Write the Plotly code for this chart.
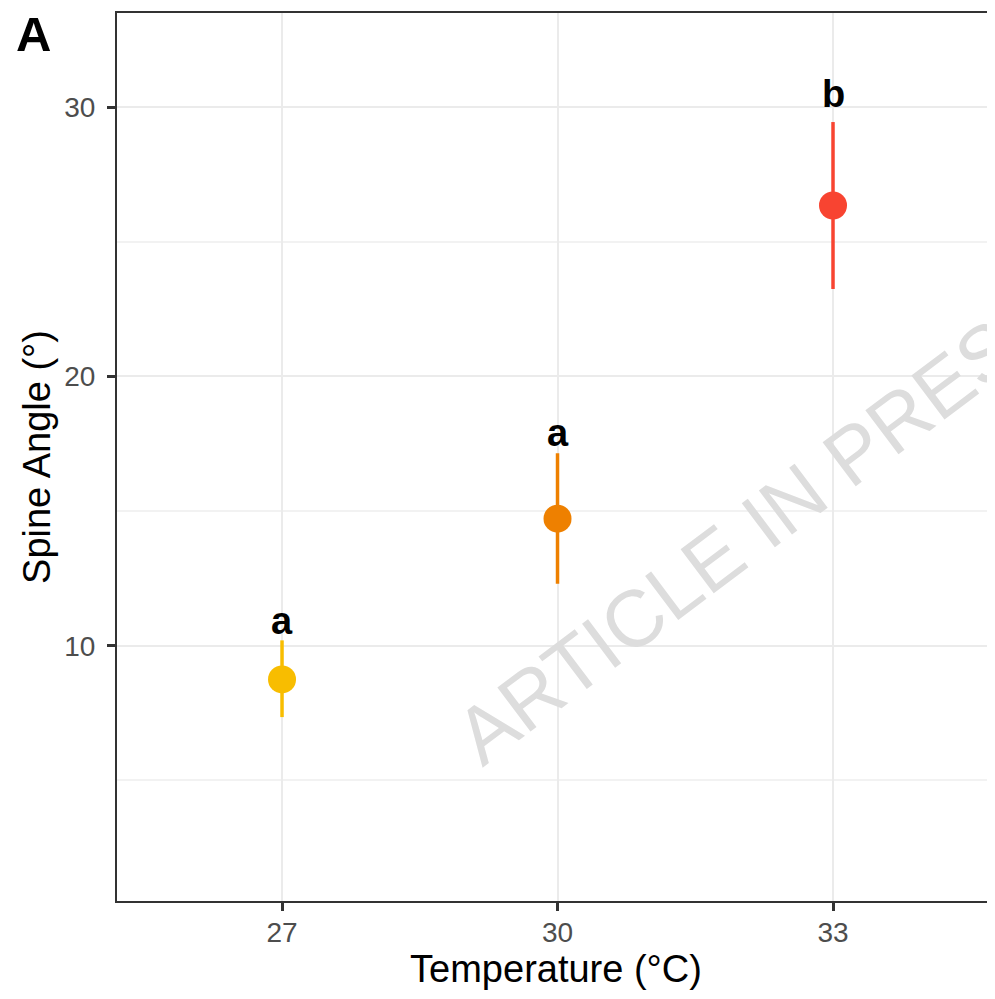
import plotly.graph_objects as go

temps = [27, 30, 33]
means = [8.75, 14.72, 26.35]
lower = [7.35, 12.3, 23.25]
upper = [10.2, 17.15, 29.45]
letters = ["a", "a", "b"]
letter_y = [10.45, 17.43, 30.0]   # baseline of the significance letters
colors = ["#F8BD00", "#EE8000", "#F84431"]

FONT = "Liberation Sans, Arial, sans-serif"

W, H = 987, 991
# figure-pixel geometry (plot area: x 109..987, y 5..893)
L, R, T, B = 109, 987, 5, 893
def px(xp):
    return (xp - L) / (R - L)
def py(yp):
    return (B - yp) / (B - T)

fig = go.Figure()
for t, m, lo, hi, c in zip(temps, means, lower, upper, colors):
    fig.add_trace(go.Scatter(
        x=[t], y=[m], mode="markers",
        marker=dict(size=28, color=c),
        error_y=dict(type="data", symmetric=False, array=[hi - m], arrayminus=[m - lo],
                     color=c, thickness=3.5, width=0),
        showlegend=False, hoverinfo="skip"))

for t, ly, lab in zip(temps, letter_y, letters):
    fig.add_annotation(x=t, y=ly, text=f"<b>{lab}</b>", showarrow=False,
                       xanchor="center", yanchor="middle", yshift=13,
                       font=dict(family=FONT, size=38, color="#000000"))

# watermark
fig.add_annotation(xref="paper", yref="paper", x=px(750), y=py(517),
                   xanchor="center", yanchor="middle",
                   text="ARTICLE IN PRESS", showarrow=False, textangle=-37,
                   font=dict(family=FONT, size=80, color="#DDDDDD"))

# panel label
fig.add_annotation(xref="paper", yref="paper", x=px(6), y=py(26),
                   xanchor="left", yanchor="middle", text="<b>A</b>", showarrow=False,
                   font=dict(family=FONT, size=49, color="black"))

fig.update_layout(
    width=W, height=H,
    margin=dict(l=L, r=W - R, t=T, b=H - B),
    plot_bgcolor="white", paper_bgcolor="white",
    xaxis=dict(range=[25.203, 34.764], tickvals=temps, ticktext=[str(t) for t in temps],
               showgrid=True, gridcolor="#EBEBEB", gridwidth=2,
               showline=True, linecolor="#333333", linewidth=2, mirror=True,
               ticks="outside", ticklen=8, tickwidth=2.5, tickcolor="#333333",
               ticklabelstandoff=-3,
               tickfont=dict(family=FONT, size=28, color="#4D4D4D"),
               title=dict(text="Temperature (°C)", font=dict(family=FONT, size=38, color="black"),
                          standoff=6),
               zeroline=False),
    yaxis=dict(range=[0.52, 33.5], tickvals=[10, 20, 30],
               showgrid=True, gridcolor="#EBEBEB", gridwidth=2,
               minor=dict(tickvals=[5, 15, 25], showgrid=True, gridcolor="#F2F2F2", gridwidth=1.5),
               showline=True, linecolor="#333333", linewidth=2,
               ticks="outside", ticklen=8, tickwidth=2.5, tickcolor="#333333",
               ticklabelstandoff=6,
               tickfont=dict(family=FONT, size=28, color="#4D4D4D"),
               title=dict(text="Spine Angle (°)", font=dict(family=FONT, size=38, color="black"),
                          standoff=2),
               zeroline=False),
)

fig.write_html("out.html")
